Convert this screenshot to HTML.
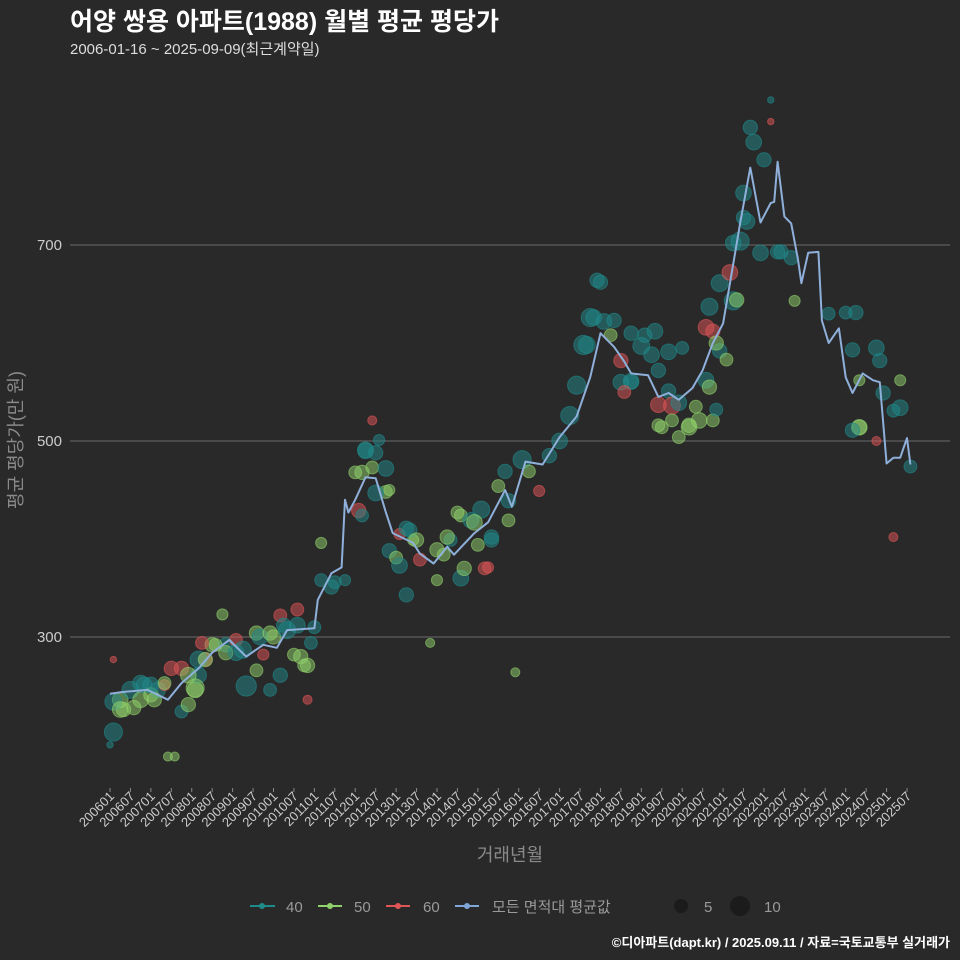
<!DOCTYPE html>
<html><head><meta charset="utf-8"><style>
body{margin:0;background:#2a292a;}
svg{display:block;font-family:"Liberation Sans","Noto Sans CJK KR",sans-serif;}
</style></head><body>
<svg id="chart" width="960" height="960" viewBox="0 0 960 960" xmlns="http://www.w3.org/2000/svg">
<rect width="960" height="960" fill="#2a292a"/>
<text x="70" y="30" font-size="25" font-weight="bold" fill="#ffffff">어양 쌍용 아파트(1988) 월별 평균 평당가</text>
<text x="70" y="54" font-size="15" fill="#dddddd">2006-01-16 ~ 2025-09-09(최근계약일)</text>
<g id="grid"></g>
<g id="bubbles"></g>
<g id="avgline"></g>
<g id="xaxis"></g>
<g id="yaxis"></g>
<text x="510" y="861" font-size="18" fill="#8a8a8a" text-anchor="middle">거래년월</text>
<text transform="translate(22,440) rotate(-90)" font-size="18" fill="#8a8a8a" text-anchor="middle">평균 평당가(만 원)</text>
<g font-size="15" fill="#9a9a9a">
  <g><line x1="250" y1="906" x2="275" y2="906" stroke="#1f8a8a" stroke-width="2"/><circle cx="262" cy="906" r="3" fill="#1f8a8a"/><text x="286" y="912">40</text></g>
  <g><line x1="318" y1="906" x2="342" y2="906" stroke="#8fd16a" stroke-width="2"/><circle cx="330" cy="906" r="3" fill="#8fd16a"/><text x="354" y="912">50</text></g>
  <g><line x1="386" y1="906" x2="410" y2="906" stroke="#e05555" stroke-width="2"/><circle cx="398" cy="906" r="3" fill="#e05555"/><text x="423" y="912">60</text></g>
  <g><line x1="455" y1="906" x2="479" y2="906" stroke="#7fa6d6" stroke-width="2"/><circle cx="467" cy="906" r="3" fill="#7fa6d6"/><text x="492" y="912">모든 면적대 평균값</text></g>
  <g><circle cx="681" cy="906" r="7" fill="#1b1b1b"/><text x="704" y="912">5</text></g>
  <g><circle cx="740" cy="906" r="10" fill="#1b1b1b"/><text x="764" y="912">10</text></g>
</g>
<text x="950" y="947" font-size="13" font-weight="bold" fill="#ffffff" text-anchor="end">©디아파트(dapt.kr) / 2025.09.11 / 자료=국토교통부 실거래가</text>
</svg>
<script>
const yTicks = [300, 500, 700];
const avgMonths = [0,4,11,17,21,26,30,35,40,45,49,52,60,61,65,68,69,70,72,75,78,81,83,89,91,95,99,101,107,111,116,118,122,127,132,137,141,144,148,151,153,158,161,164,167,171,174,177,180,183,185,188,191,194,195,196,198,200,202,203,205,208,209,211,214,216,218,221,224,226,228,230,232,234,235];
const avgValues = [242,244,246,236,253,268,284,297,280,292,289,307,309,338,365,371,440,427,440,463,462,427,406,396,385,375,392,384,406,417,450,433,479,476,504,525,565,610,596,581,569,567,545,549,542,554,572,600,620,681,722,779,723,743,744,785,729,722,685,661,692,693,623,600,615,565,549,569,562,560,477,483,483,503,476];
const bubbleMonth = [1,0,1,3,4,6,9,10,12,14,16,17,19,21,23,25,26,28,30,33,34,37,39,40,43,45,47,48,50,51,54,55,57,58,62,66,69,72,73,74,75,77,79,77,82,82,84,85,87,89,91,94,96,98,100,103,106,108,109,111,112,114,116,117,119,121,123,126,129,132,135,137,139,141,144,145,147,150,153,156,160,161,164,165,170,175,177,177,179,183,185,187,188,189,192,194,194,197,200,201,211,216,218,220,220,225,226,230,230,232,235,
 1,3,7,9,12,13,16,18,21,23,25,26,28,31,27,34,37,43,44,47,50,52,56,59,58,55,60,62,65,75,78,74,81,81,78,85,87,88,90,96,99,103,104,102,107,110,112,117,
 140,143,142,148,153,157,159,164,161,168,150,153,151,161,162,165,167,170,173,167,172,176,178,175,176,179,182,184,178,181,183,186,186,191,196,219,225,220,218,232,227];
const bubbleValue = [203,190,277,236,226,246,236,251,241,246,251,178,178,224,231,246,261,277,292,323,292,297,287,250,266,282,246,300,322,312,282,312,271,236,396,356,358,468,429,424,490,521,501,473,450,388,381,405,411,399,379,294,358,384,399,424,419,394,430,371,399,454,469,439,264,481,469,449,485,500,526,557,598,626,662,622,608,582,561,597,612,516,551,536,516,562,521,612,592,643,704,724,820,805,787,848,826,693,687,643,630,631,593,562,514,500,582,531,402,562,474,
 234,226,228,253,251,236,253,268,268,261,248,277,277,292,294,284,284,304,300,304,261,307,280,294,271,328,310,358,351,491,488,468,472,448,447,373,343,409,399,389,402,360,370,427,417,370,402,419,
 598,664,626,623,610,608,588,591,572,595,560,560,550,537,514,521,504,514,521,539,535,555,532,616,637,661,672,644,600,583,702,728,753,692,693,631,595,514,511,534,549];
const bubbleCount = [8,1,1,6,5,7,6,6,5,6,3,2,2,4,5,6,6,4,5,3,5,4,7,10,4,3,4,5,4,5,4,6,4,2,3,4,3,4,5,4,6,2,3,4,3,5,4,3,5,3,4,2,3,4,4,4,6,4,7,3,5,4,5,5,2,8,4,3,5,6,8,8,9,8,5,6,4,5,6,7,6,4,5,7,5,6,4,5,5,8,8,6,5,6,5,1,1,5,5,3,4,4,5,3,5,2,5,4,2,3,4,
 7,6,5,6,6,5,4,5,5,6,8,7,5,4,4,5,6,5,6,5,5,7,5,4,5,4,4,4,5,6,5,5,6,4,6,6,5,5,5,5,5,6,5,4,6,4,5,4,
 7,5,6,5,5,5,6,6,5,4,6,5,4,6,4,4,4,6,6,6,4,5,4,6,7,7,6,5,5,4,6,5,6,6,5,5,6,6,5,6,5];
const bubbleGroup = [40,40,60,50,50,40,50,40,50,40,60,50,50,40,50,50,40,60,50,50,40,60,40,40,50,60,40,50,60,40,50,40,50,60,50,40,40,50,60,40,40,60,40,50,50,40,50,60,40,50,60,50,50,50,40,50,40,50,40,60,40,50,40,40,50,40,50,60,40,40,40,40,40,40,40,40,50,60,40,40,40,50,40,60,50,40,50,60,40,40,40,40,40,40,40,40,60,40,40,50,40,40,40,50,50,60,40,40,60,50,40,
 40,50,50,40,40,50,50,60,60,50,50,40,50,50,60,50,40,50,40,50,40,40,50,40,50,60,40,40,40,40,40,50,40,50,40,40,40,40,50,50,50,40,50,50,50,60,40,50,
 40,40,40,40,40,40,40,40,40,40,40,40,60,60,50,50,50,50,50,40,50,50,40,60,40,40,60,50,50,50,40,40,40,40,40,40,40,50,40,40,40];
const xTickStartYear = 2006;
const groupColors = {40:'#1f8a8a',50:'#8fd16a',60:'#e05555'};

const NS='http://www.w3.org/2000/svg';
const xScale = m => 110 + m*3.406;
const yScale = v => 245 + (700 - v)*0.98;
function mk(tag, attrs, parent){const e=document.createElementNS(NS,tag);for(const k in attrs)e.setAttribute(k,attrs[k]);parent.appendChild(e);return e;}

const grid=document.getElementById('grid'), yax=document.getElementById('yaxis');
yTicks.forEach(t=>{
  const l=mk('line',{x1:70,x2:950,y1:yScale(t),y2:yScale(t),stroke:'#6a6a6a','stroke-width':1},grid);
  
  
  const tx=mk('text',{x:62,y:yScale(t)+5,'font-size':15,fill:'#cccccc','text-anchor':'end'},yax);
  tx.textContent=t;
  
  
});

const xax=document.getElementById('xaxis');
for(let m=0;m<=234;m+=6){
  const x=xScale(m);
  const yr=xTickStartYear+Math.floor(m/12), mo=(m%12)+1;
  const lab=yr+(mo<10?'0':'')+mo;
  const tk=mk('line',{x1:x,x2:x,y1:788,y2:792,stroke:'#888','stroke-width':1},xax);
  
  
  const tx=mk('text',{transform:`translate(${x+5},797) rotate(-45)`,'font-size':13,fill:'#cccccc','text-anchor':'end'},xax);
  tx.textContent=lab;
  
  
}

const bg=document.getElementById('bubbles');
bubbleMonth.forEach((m,i)=>{
  const c=groupColors[bubbleGroup[i]];
  const b=mk('circle',{cx:xScale(m),cy:yScale(bubbleValue[i]),r:Math.sqrt(bubbleCount[i])*3.2,fill:c,'fill-opacity':0.5,stroke:c,'stroke-opacity':0.6,'stroke-width':1},bg);
  
  
});

const al=document.getElementById('avgline');
const pts=avgMonths.map((m,i)=>xScale(m).toFixed(1)+','+yScale(avgValues[i]).toFixed(1)).join(' ');
const pl=mk('polyline',{points:pts,fill:'none',stroke:'#8fb0da','stroke-width':2,'stroke-linejoin':'round'},al);


</script>
</body></html>
